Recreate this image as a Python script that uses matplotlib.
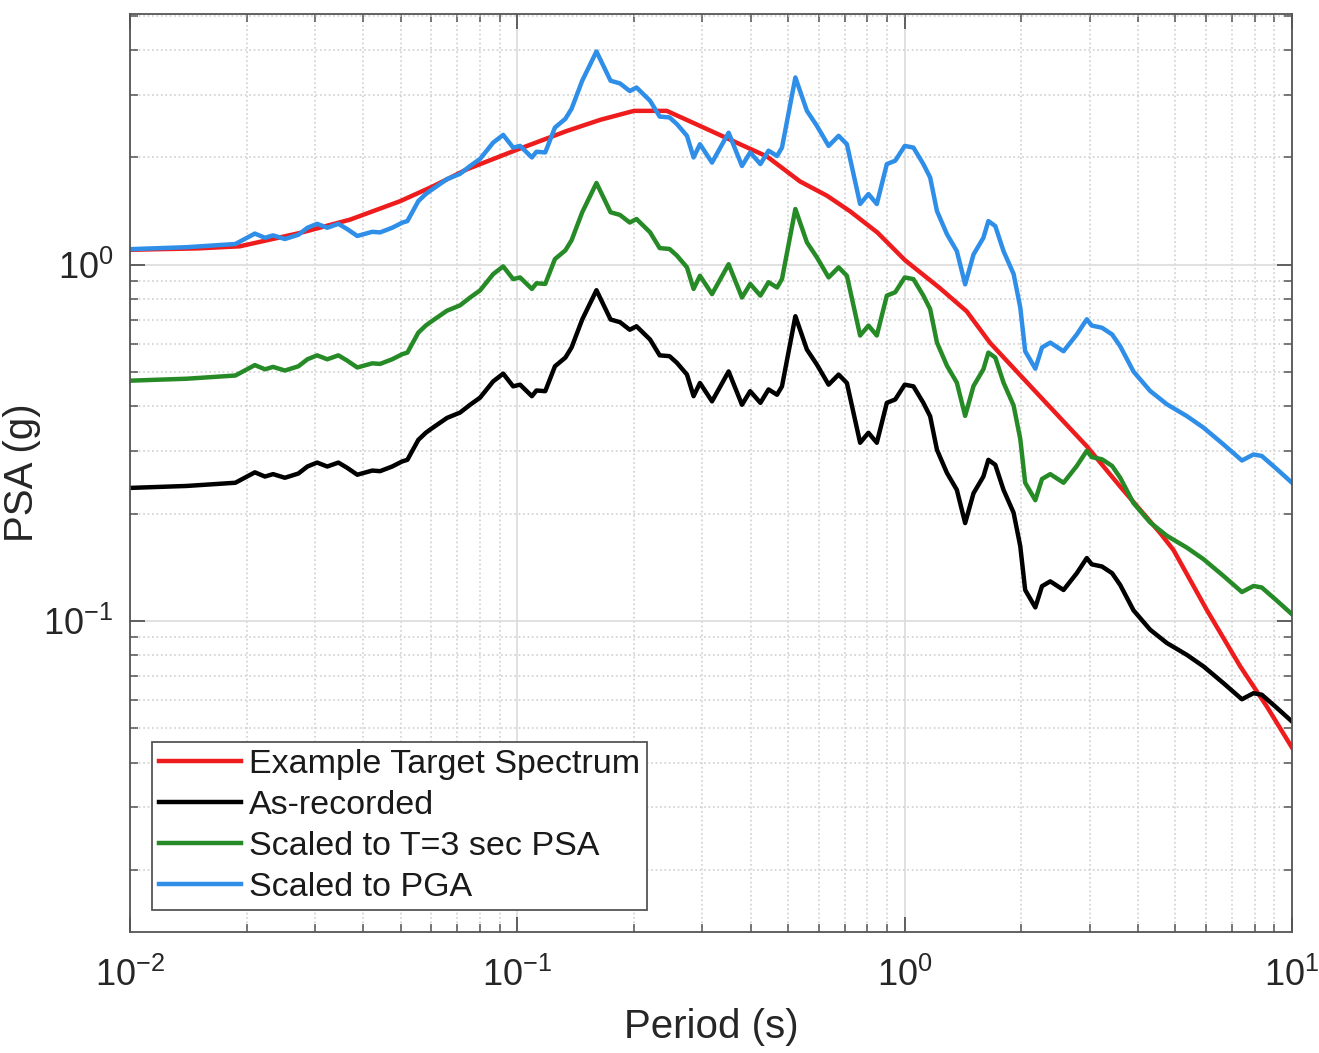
import numpy as np
import matplotlib
matplotlib.use("Agg")
import matplotlib.pyplot as plt
from matplotlib import ticker

plt.rcParams["font.family"] = ["Liberation Sans", "DejaVu Sans"]
plt.rcParams["axes.unicode_minus"] = False

# target spectrum (period in s, PSA in g)
period_target = [0.01, 0.015, 0.0192, 0.0275, 0.037, 0.0498, 0.0607, 0.074, 0.0997,
                 0.134, 0.164, 0.200, 0.243, 0.296, 0.361, 0.441, 0.537, 0.63, 0.723,
                 0.85, 1.0, 1.23, 1.445, 1.66, 2.15, 2.95, 3.60, 4.57, 4.94, 6.03, 7.35,
                 8.61, 10.0]
psa_target = [1.10, 1.11, 1.125, 1.227, 1.337, 1.506, 1.66, 1.85, 2.10,
              2.37, 2.55, 2.70, 2.70, 2.45, 2.22, 2.01, 1.71, 1.56, 1.41,
              1.23, 1.03, 0.86, 0.739, 0.603, 0.446, 0.309, 0.238, 0.176, 0.158, 0.107, 0.0744,
              0.0574, 0.044]

# as-recorded spectrum
period_rec = [0.01, 0.014, 0.0187, 0.0210, 0.0223, 0.0234, 0.0251, 0.0272, 0.0287,
              0.0304, 0.0323, 0.0345, 0.0363, 0.0386, 0.0422, 0.0442, 0.0475, 0.0504,
              0.052, 0.0555, 0.058, 0.0595, 0.0658, 0.0711, 0.0755, 0.0801, 0.0866,
              0.0919, 0.0975, 0.1016, 0.109, 0.112, 0.118, 0.125, 0.133, 0.138,
              0.147, 0.160, 0.174, 0.184, 0.195, 0.203, 0.220, 0.233, 0.247,
              0.258, 0.274, 0.285, 0.296, 0.318, 0.351, 0.380, 0.399, 0.424,
              0.445, 0.468, 0.482, 0.522, 0.559, 0.593, 0.636, 0.675, 0.709,
              0.767, 0.806, 0.847, 0.899, 0.945, 1.00, 1.053, 1.117, 1.163,
              1.211, 1.285, 1.363, 1.432, 1.505, 1.596, 1.644, 1.713, 1.799,
              1.910, 1.987, 2.046, 2.173, 2.261, 2.375, 2.570, 2.781, 2.951,
              3.04, 3.23, 3.43, 3.60, 3.895, 4.30, 4.75, 5.35, 5.91, 6.65,
              7.42, 7.95, 8.35, 9.14, 10.0]
psa_rec = [0.236, 0.239, 0.244, 0.261, 0.254, 0.258, 0.252, 0.259, 0.271,
           0.278, 0.271, 0.278, 0.269, 0.257, 0.264, 0.263, 0.271, 0.280,
           0.283, 0.322, 0.337, 0.344, 0.371, 0.384, 0.404, 0.423, 0.470,
           0.494, 0.455, 0.460, 0.427, 0.443, 0.441, 0.518, 0.548, 0.585,
           0.701, 0.847, 0.701, 0.689, 0.656, 0.671, 0.616, 0.556, 0.553,
           0.530, 0.491, 0.427, 0.465, 0.413, 0.501, 0.404, 0.441, 0.409,
           0.446, 0.431, 0.455, 0.716, 0.577, 0.524, 0.460, 0.491, 0.465,
           0.316, 0.337, 0.316, 0.409, 0.418, 0.460, 0.455, 0.409, 0.375,
           0.302, 0.260, 0.233, 0.188, 0.228, 0.254, 0.283, 0.274, 0.233,
           0.201, 0.162, 0.122, 0.109, 0.125, 0.129, 0.122, 0.136, 0.150,
           0.144, 0.142, 0.136, 0.126, 0.107, 0.0944, 0.0866, 0.0802, 0.0744, 0.0668,
           0.0602, 0.0626, 0.0620, 0.0569, 0.0521]

# scale factors applied to the record
sf_t3 = 2.0
sf_pga = 4.68

labels = ["Example Target Spectrum", "As-recorded", "Scaled to T=3 sec PSA", "Scaled to PGA"]
colors = ["#ee1c1c", "#000000", "#268a26", "#2e8ee8"]

fig = plt.figure(figsize=(13.19, 10.53), dpi=100)
ax = fig.add_axes([0.0986, 0.1152, 0.881, 0.8715])

rec = np.array(psa_rec)
ax.loglog(period_target, psa_target, color=colors[0], lw=3.2, label=labels[0])
ax.loglog(period_rec, rec, color=colors[1], lw=3.2, label=labels[1])
ax.loglog(period_rec, rec * sf_t3, color=colors[2], lw=3.2, label=labels[2])
ax.loglog(period_rec, rec * sf_pga, color=colors[3], lw=3.2, label=labels[3])

ax.set_xlim(0.01, 10)
ax.set_ylim(0.0134, 5.05)

for axis in (ax.xaxis, ax.yaxis):
    axis.set_major_locator(ticker.LogLocator(base=10, numticks=20))
    axis.set_minor_locator(ticker.LogLocator(base=10, subs=np.arange(2, 10), numticks=100))
    axis.set_minor_formatter(ticker.NullFormatter())

ax.grid(True, which="major", color="#dcdcdc", lw=1.2)
ax.grid(True, which="minor", color="#d0d0d0", ls=":", lw=1.2)
ax.set_axisbelow(True)

ax.tick_params(which="both", direction="in", top=True, right=True, colors="#555555",
               labelcolor="#262626", labelsize=26)
ax.tick_params(which="major", length=11, width=1.3)
ax.tick_params(which="minor", length=6, width=1.1)
ax.tick_params(axis="x", pad=19)
ax.tick_params(axis="y", pad=12)
for s in ax.spines.values():
    s.set_color("#555555")
    s.set_linewidth(1.3)

ax.set_xlabel("Period (s)", fontsize=29, color="#262626", labelpad=10)
ax.set_ylabel("PSA (g)", fontsize=29, color="#262626", labelpad=2)

leg = ax.legend(loc="lower left", bbox_to_anchor=(0.019, 0.0236), borderaxespad=0,
                fontsize=24.5, handlelength=2.4, handletextpad=0.25, labelspacing=0.3,
                borderpad=0.2, fancybox=False, framealpha=1)
leg.get_frame().set_edgecolor("#555555")
leg.get_frame().set_linewidth(1.3)
for t in leg.get_texts():
    t.set_color("#1a1a1a")

fig.savefig("out.png", dpi=100)
